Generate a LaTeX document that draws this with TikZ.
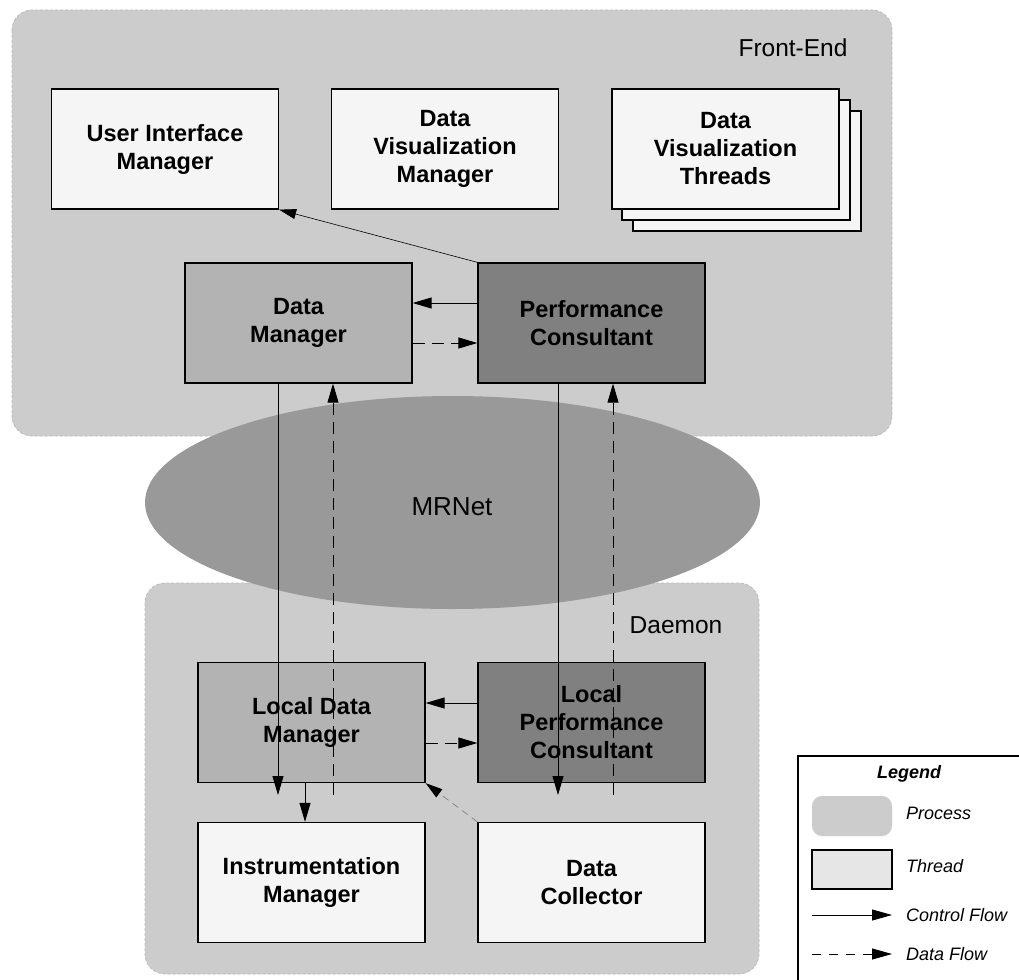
\documentclass[tikz,border=0pt]{standalone}
\usepackage{fontspec}
\setmainfont{Liberation Sans}
\usetikzlibrary{arrows.meta,shapes.geometric}

\definecolor{procgray}{HTML}{CCCCCC}
\definecolor{procedge}{HTML}{BBBBBB}
\definecolor{netgray}{HTML}{999999}
\definecolor{boxwhite}{HTML}{F5F5F5}
\definecolor{dmgray}{HTML}{B3B3B3}
\definecolor{pcgray}{HTML}{808080}
\definecolor{threadgray}{HTML}{E6E6E6}

\tikzset{
  process/.style={fill=procgray, draw=procedge, line width=0.8pt,
    dash pattern=on 3pt off 2pt, rounded corners=20pt},
  thread/.style={draw=black, line width=1.3pt, rectangle, align=center,
    minimum width=227pt, minimum height=120pt, inner sep=0pt,
    font=\fontsize{23.5}{28}\selectfont\bfseries},
  biglabel/.style={font=\fontsize{24.5}{28}\selectfont, inner sep=0pt},
  legtext/.style={font=\fontsize{18}{22}\selectfont\itshape, anchor=west, inner sep=0pt},
  tip/.style={-{Triangle[length=19pt,width=11pt,color=black]}},
  ctrl/.style={tip, draw=black, line width=0.9pt},
  dataflow/.style={tip, draw=black, line width=0.9pt, dash pattern=on 12pt off 7pt},
  thin ctrl/.style={-{Triangle[length=17pt,width=10pt,color=black]}, draw=black, line width=0.6pt},
  thin data/.style={-{Triangle[length=17pt,width=10pt,color=black]}, draw=gray, line width=0.7pt,
    dash pattern=on 7pt off 5pt},
}

\begin{document}
\begin{tikzpicture}[x=1pt, y=-1pt]
\useasboundingbox (0,0) rectangle (1019,979);
\clip (0,0) rectangle (1019,979);

% process regions
\fill[white] (0,0) rectangle (1019,979);
\path[process] (12,10) rectangle (892,436);
\path[process] (145,583) rectangle (759,974);
\node[biglabel] (felabel) at (793,48) {Front-End};
\node[biglabel] (dmnlabel) at (676,625) {Daemon};

% MRNet overlay
\node[ellipse, fill=netgray, minimum width=615pt, minimum height=213pt,
  inner sep=0pt] (mrnet) at (452.5,502.5) {};
\node[biglabel, font=\fontsize{26}{28}\selectfont] (mrnetlabel) at (452,507) {MRNet};

% front-end threads
\node[thread, fill=boxwhite] (uim) at (165,149) {User Interface\\Manager};
\node[thread, fill=boxwhite] (dvm) at (445,149) {Data\\Visualization\\Manager};
\draw[line width=1.3pt, fill=boxwhite] (633,111) rectangle (861,231);
\draw[line width=1.3pt, fill=boxwhite] (622,100) rectangle (850,220);
\node[thread, fill=boxwhite] (dvt) at (725.5,149) {Data\\Visualization\\Threads};
\node[thread, fill=dmgray] (dm) at (298.5,323) {Data\\Manager};
\node[thread, fill=pcgray] (pc) at (591.5,323) {Performance\\Consultant};

% daemon threads
\node[thread, fill=dmgray] (ldm) at (311.5,722.5) {Local Data\\Manager};
\node[thread, fill=pcgray] (lpc) at (591.5,722.5) {Local\\Performance\\Consultant};
\node[thread, fill=boxwhite] (im) at (311.5,882.5) {Instrumentation\\Manager};
\node[thread, fill=boxwhite] (dc) at (591.5,882.5) {Data\\Collector};

% free ends of the long vertical flows
\coordinate (dmdown) at (278,795);
\coordinate (dmup) at (333,795);
\coordinate (pcdown) at (558,795);
\coordinate (pcup) at (613,795);

% front-end flows
\draw[thin ctrl] (pc.north west) -- (uim.south east);
\draw[ctrl] ([yshift=20pt]pc.west) -- ([yshift=20pt]dm.east);
\draw[dataflow] ([yshift=-20pt]dm.east) -- ([yshift=-20pt]pc.west);

% flows across MRNet
\draw[ctrl] (dm.south -| dmdown) -- (dmdown);
\draw[dataflow] (dmup) -- (dm.south -| dmup);
\draw[ctrl] (pc.south -| pcdown) -- (pcdown);
\draw[dataflow] (pcup) -- (pc.south -| pcup);

% daemon flows
\draw[ctrl] ([yshift=19.5pt]lpc.west) -- ([yshift=19.5pt]ldm.east);
\draw[dataflow] ([yshift=-20.5pt]ldm.east) -- ([yshift=-20.5pt]lpc.west);
\draw[ctrl] ([xshift=-6.5pt]ldm.south) -- ([xshift=-6.5pt]im.north);
\draw[thin data] (dc.north west) -- (ldm.south east);

% legend
\draw[line width=1.2pt, fill=white] (798,756) rectangle (1030,990);
\node[font=\fontsize{18}{22}\selectfont\bfseries\itshape, inner sep=0pt] (legtitle) at (909,774) {Legend};
\fill[procgray, rounded corners=10pt] (812,796) rectangle (892,836);
\node[legtext] (legproc) at (906,813) {Process};
\draw[line width=1.2pt, fill=threadgray] (812,850) rectangle (892,889);
\node[legtext] (legthread) at (906,866) {Thread};
\coordinate (lc1) at (812,915);
\coordinate (lc2) at (892,915);
\draw[line width=0.9pt, -{Triangle[length=20pt,width=11pt,color=black]}] (lc1) -- (lc2);
\node[legtext] (legctrl) at (906,915) {Control Flow};
\coordinate (ld1) at (812,954);
\coordinate (ld2) at (892,954);
\draw[line width=0.9pt, dash pattern=on 9pt off 8pt, -{Triangle[length=20pt,width=11pt,color=black]}] (ld1) -- (ld2);
\node[legtext] (legdata) at (906,954) {Data Flow};
\end{tikzpicture}
\end{document}
